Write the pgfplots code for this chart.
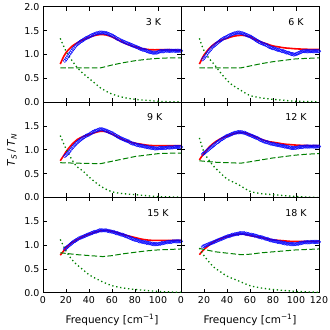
\documentclass[border=0pt]{standalone}
\usepackage{pgfplots}
\pgfplotsset{compat=1.18}
\usepackage{fontspec}
\setmainfont{DejaVu Sans}

\pgfplotsset{
  panel/.style={
    scale only axis, width=138bp, height=95.3bp, anchor=south west,
    xmin=0, xmax=120, ymin=0, ymax=2,
    xtick={0,20,40,60,80,100,120}, ytick={0,0.5,1,1.5,2},
    tick align=inside, major tick length=4bp,
    axis line style={line width=0.8bp},
    tick style={black, line width=0.8bp},
    tick label style={font=\fontsize{9.5}{11}\selectfont},
    xticklabels={}, yticklabels={},
  },
  data/.style={blue, only marks, mark=o, mark size=1.8bp, mark options={line width=0.35bp}},
  fit/.style={red, line width=1.6bp, smooth, no marks},
  lor/.style={green!50!black, line width=1bp, dash pattern=on 5.5bp off 2.4bp, no marks},
  drude/.style={green!50!black, line width=1.3bp, dash pattern=on 1.3bp off 2.7bp, smooth, no marks},
}
\tikzset{tlabel/.style={font=\fontsize{9.5}{11}\selectfont}}

\begin{document}
\begin{tikzpicture}
\useasboundingbox (0,0) rectangle (330bp,330bp);

% ---------- 3 K ----------
\begin{axis}[panel, at={(43bp,227.8bp)}, yticklabels={0.0,0.5,1.0,1.5,2.0}]
\addplot[data] coordinates {
(19,0.87)(20,0.90)(21,0.94)(22,0.97)(23,1.01)(24,1.04)(25,1.08)(26,1.11)(27,1.14)(28,1.17)
(29,1.20)(30,1.22)(31,1.24)(32,1.26)(33,1.28)(34,1.29)(35,1.31)(36,1.32)(37,1.34)(38,1.35)
(39,1.36)(40,1.37)(41,1.39)(42,1.40)(43,1.41)(44,1.42)(45,1.43)(46,1.44)(47,1.45)(48,1.45)
(49,1.46)(50,1.46)(51,1.46)(52,1.46)(53,1.46)(54,1.45)(55,1.45)(56,1.44)(57,1.43)(58,1.42)
(59,1.41)(60,1.40)(61,1.39)(62,1.37)(63,1.36)(64,1.34)(65,1.33)(66,1.32)(67,1.30)(68,1.29)
(69,1.28)(70,1.27)(71,1.26)(72,1.25)(73,1.24)(74,1.23)(75,1.22)(76,1.21)(77,1.20)(78,1.19)
(79,1.18)(80,1.17)(81,1.16)(82,1.15)(83,1.14)(84,1.13)(85,1.12)(86,1.11)(87,1.10)(88,1.10)
(89,1.09)(90,1.08)(91,1.07)(92,1.06)(93,1.05)(94,1.05)(95,1.04)(96,1.04)(97,1.04)(98,1.04)
(99,1.04)(100,1.05)(101,1.06)(102,1.07)(103,1.07)(104,1.07)(105,1.07)(106,1.08)(107,1.08)(108,1.08)
(109,1.08)(110,1.08)(111,1.08)(112,1.08)(113,1.08)(114,1.08)(115,1.08)(116,1.08)(117,1.08)(118,1.08)
(119,1.08)(120,1.08)
};
\addplot[fit] table {
15 0.80
18 0.96
20 1.04
25 1.17
30 1.25
35 1.31
40 1.36
45 1.40
50 1.42
55 1.41
60 1.37
65 1.31
70 1.25
75 1.20
80 1.16
85 1.13
90 1.11
95 1.10
100 1.10
110 1.10
120 1.09
};
\addplot[lor] table {
15 0.72
30 0.72
50 0.72
60 0.78
70 0.83
80 0.87
90 0.90
100 0.92
110 0.93
120 0.93
};
\addplot[drude] table {
15 1.34
20 1.07
25 0.88
30 0.72
35 0.60
40 0.50
45 0.40
50 0.30
55 0.23
60 0.17
70 0.10
80 0.06
90 0.04
100 0.02
110 0.01
120 0.01
};
\node[tlabel] at (rel axis cs:0.80,0.84) {3 K};
\end{axis}

% ---------- 6 K ----------
\begin{axis}[panel, at={(181bp,227.8bp)}]
\addplot[data] coordinates {
(19,0.90)(20,0.93)(21,0.96)(22,0.99)(23,1.03)(24,1.06)(25,1.09)(26,1.12)(27,1.15)(28,1.17)
(29,1.19)(30,1.21)(31,1.23)(32,1.25)(33,1.27)(34,1.29)(35,1.31)(36,1.32)(37,1.34)(38,1.35)
(39,1.36)(40,1.37)(41,1.39)(42,1.40)(43,1.41)(44,1.42)(45,1.43)(46,1.44)(47,1.45)(48,1.45)
(49,1.46)(50,1.46)(51,1.46)(52,1.45)(53,1.45)(54,1.44)(55,1.43)(56,1.42)(57,1.41)(58,1.40)
(59,1.39)(60,1.38)(61,1.37)(62,1.35)(63,1.34)(64,1.32)(65,1.31)(66,1.29)(67,1.28)(68,1.26)
(69,1.25)(70,1.24)(71,1.23)(72,1.22)(73,1.21)(74,1.20)(75,1.19)(76,1.17)(77,1.16)(78,1.15)
(79,1.14)(80,1.13)(81,1.13)(82,1.12)(83,1.11)(84,1.10)(85,1.10)(86,1.09)(87,1.08)(88,1.07)
(89,1.07)(90,1.06)(91,1.05)(92,1.04)(93,1.04)(94,1.03)(95,1.02)(96,1.01)(97,1.01)(98,1.00)
(99,1.00)(100,1.01)(101,1.02)(102,1.03)(103,1.04)(104,1.05)(105,1.06)(106,1.07)(107,1.07)(108,1.07)
(109,1.07)(110,1.07)(111,1.07)(112,1.07)(113,1.07)(114,1.07)(115,1.07)(116,1.07)(117,1.07)(118,1.07)
(119,1.07)(120,1.07)
};
\addplot[fit] table {
16 0.80
18 0.90
20 0.99
25 1.14
30 1.24
35 1.30
40 1.34
45 1.38
50 1.40
55 1.40
60 1.37
65 1.31
70 1.26
75 1.22
80 1.18
85 1.16
90 1.14
95 1.13
100 1.12
110 1.11
120 1.11
};
\addplot[lor] table {
16 0.72
30 0.72
52 0.72
60 0.76
70 0.81
80 0.85
90 0.88
100 0.91
110 0.92
120 0.93
};
\addplot[drude] table {
16 1.34
20 1.08
25 0.90
29 0.79
35 0.60
43 0.39
52 0.25
60 0.14
70 0.09
80 0.06
100 0.02
120 0.01
};
\node[tlabel] at (rel axis cs:0.833,0.84) {6 K};
\end{axis}

% ---------- 9 K ----------
\begin{axis}[panel, at={(43bp,132.5bp)}, yticklabels={0.0,0.5,1.0,1.5,}]
\addplot[data] coordinates {
(19,0.87)(20,0.89)(21,0.92)(22,0.94)(23,0.97)(24,1.00)(25,1.03)(26,1.06)(27,1.09)(28,1.11)
(29,1.14)(30,1.16)(31,1.18)(32,1.20)(33,1.22)(34,1.24)(35,1.26)(36,1.27)(37,1.29)(38,1.30)
(39,1.31)(40,1.32)(41,1.34)(42,1.35)(43,1.37)(44,1.38)(45,1.39)(46,1.40)(47,1.41)(48,1.42)
(49,1.43)(50,1.43)(51,1.43)(52,1.43)(53,1.42)(54,1.41)(55,1.40)(56,1.39)(57,1.38)(58,1.37)
(59,1.36)(60,1.35)(61,1.34)(62,1.32)(63,1.31)(64,1.29)(65,1.28)(66,1.27)(67,1.25)(68,1.24)
(69,1.23)(70,1.22)(71,1.21)(72,1.20)(73,1.19)(74,1.18)(75,1.17)(76,1.15)(77,1.14)(78,1.13)
(79,1.13)(80,1.12)(81,1.11)(82,1.10)(83,1.10)(84,1.09)(85,1.09)(86,1.08)(87,1.08)(88,1.07)
(89,1.07)(90,1.06)(91,1.06)(92,1.05)(93,1.05)(94,1.04)(95,1.04)(96,1.04)(97,1.03)(98,1.03)
(99,1.03)(100,1.03)(101,1.04)(102,1.04)(103,1.04)(104,1.04)(105,1.04)(106,1.04)(107,1.04)(108,1.05)
(109,1.05)(110,1.05)(111,1.05)(112,1.05)(113,1.05)(114,1.06)(115,1.06)(116,1.06)(117,1.06)(118,1.06)
(119,1.06)(120,1.06)
};
\addplot[fit] table {
15 0.77
18 0.88
20 0.96
25 1.11
30 1.22
35 1.28
40 1.32
45 1.36
50 1.39
55 1.38
60 1.33
65 1.27
70 1.21
75 1.17
80 1.14
85 1.12
90 1.10
95 1.09
100 1.09
110 1.09
120 1.09
};
\addplot[lor] table {
15 0.73
30 0.72
50 0.71
60 0.76
70 0.81
80 0.86
90 0.89
100 0.92
110 0.93
120 0.93
};
\addplot[drude] table {
15 1.30
20 1.02
25 0.80
29 0.66
35 0.55
40 0.43
50 0.24
60 0.12
70 0.08
80 0.06
100 0.02
120 0.01
};
\node[tlabel] at (rel axis cs:0.81,0.84) {9 K};
\end{axis}

% ---------- 12 K ----------
\begin{axis}[panel, at={(181bp,132.5bp)}]
\addplot[data] coordinates {
(19,0.91)(20,0.93)(21,0.95)(22,0.97)(23,0.99)(24,1.01)(25,1.03)(26,1.05)(27,1.07)(28,1.09)
(29,1.11)(30,1.13)(31,1.15)(32,1.16)(33,1.18)(34,1.20)(35,1.22)(36,1.23)(37,1.25)(38,1.26)
(39,1.28)(40,1.29)(41,1.30)(42,1.31)(43,1.32)(44,1.33)(45,1.34)(46,1.35)(47,1.36)(48,1.36)
(49,1.37)(50,1.37)(51,1.37)(52,1.37)(53,1.37)(54,1.36)(55,1.36)(56,1.35)(57,1.34)(58,1.33)
(59,1.32)(60,1.31)(61,1.30)(62,1.29)(63,1.28)(64,1.27)(65,1.26)(66,1.25)(67,1.24)(68,1.22)
(69,1.21)(70,1.20)(71,1.19)(72,1.18)(73,1.17)(74,1.16)(75,1.16)(76,1.15)(77,1.14)(78,1.13)
(79,1.13)(80,1.12)(81,1.12)(82,1.11)(83,1.11)(84,1.10)(85,1.10)(86,1.09)(87,1.09)(88,1.08)
(89,1.08)(90,1.07)(91,1.07)(92,1.06)(93,1.06)(94,1.05)(95,1.05)(96,1.04)(97,1.04)(98,1.04)
(99,1.04)(100,1.04)(101,1.05)(102,1.05)(103,1.06)(104,1.06)(105,1.06)(106,1.06)(107,1.07)(108,1.07)
(109,1.07)(110,1.07)(111,1.07)(112,1.07)(113,1.07)(114,1.07)(115,1.07)(116,1.07)(117,1.07)(118,1.07)
(119,1.07)(120,1.07)
};
\addplot[fit] table {
16 0.79
18 0.86
20 0.93
25 1.07
30 1.17
35 1.24
40 1.29
45 1.33
50 1.36
55 1.36
60 1.32
65 1.27
70 1.22
75 1.18
80 1.16
85 1.14
90 1.12
95 1.11
100 1.10
110 1.09
120 1.09
};
\addplot[lor] table {
16 0.77
30 0.74
52 0.72
60 0.75
70 0.79
80 0.83
90 0.86
100 0.89
110 0.91
120 0.92
};
\addplot[drude] table {
16 1.25
20 0.95
25 0.76
29 0.64
35 0.50
40 0.39
50 0.27
60 0.13
70 0.08
80 0.06
100 0.02
120 0.00
};
\node[tlabel] at (rel axis cs:0.833,0.84) {12 K};
\end{axis}

% ---------- 15 K ----------
\begin{axis}[panel, at={(43bp,37.2bp)}, yticklabels={0.0,0.5,1.0,1.5,},
  xticklabels={0,20,40,60,80,100,}]
\addplot[data] coordinates {
(19,0.92)(20,0.94)(21,0.96)(22,0.98)(23,1.00)(24,1.02)(25,1.04)(26,1.06)(27,1.08)(28,1.09)
(29,1.11)(30,1.12)(31,1.14)(32,1.15)(33,1.16)(34,1.17)(35,1.18)(36,1.19)(37,1.20)(38,1.21)
(39,1.22)(40,1.23)(41,1.24)(42,1.25)(43,1.26)(44,1.27)(45,1.28)(46,1.28)(47,1.29)(48,1.30)
(49,1.31)(50,1.31)(51,1.31)(52,1.31)(53,1.31)(54,1.31)(55,1.31)(56,1.30)(57,1.30)(58,1.29)
(59,1.29)(60,1.28)(61,1.28)(62,1.27)(63,1.26)(64,1.25)(65,1.25)(66,1.24)(67,1.23)(68,1.22)
(69,1.22)(70,1.21)(71,1.20)(72,1.19)(73,1.18)(74,1.17)(75,1.16)(76,1.15)(77,1.14)(78,1.13)
(79,1.12)(80,1.11)(81,1.11)(82,1.10)(83,1.09)(84,1.08)(85,1.08)(86,1.07)(87,1.07)(88,1.06)
(89,1.06)(90,1.05)(91,1.05)(92,1.04)(93,1.04)(94,1.03)(95,1.03)(96,1.02)(97,1.02)(98,1.02)
(99,1.02)(100,1.02)(101,1.03)(102,1.03)(103,1.04)(104,1.04)(105,1.05)(106,1.05)(107,1.06)(108,1.06)
(109,1.07)(110,1.07)(111,1.07)(112,1.07)(113,1.08)(114,1.08)(115,1.08)(116,1.08)(117,1.08)(118,1.08)
(119,1.08)(120,1.08)
};
\addplot[fit] table {
15 0.79
18 0.88
20 0.95
25 1.05
30 1.12
35 1.18
40 1.23
45 1.27
50 1.30
55 1.31
60 1.29
65 1.26
70 1.22
75 1.19
80 1.16
85 1.13
90 1.11
95 1.10
100 1.10
110 1.10
120 1.10
};
\addplot[lor] table {
15 0.84
30 0.80
52 0.76
60 0.78
70 0.82
80 0.85
90 0.88
100 0.90
110 0.91
120 0.92
};
\addplot[drude] table {
15 1.12
20 0.88
25 0.70
29 0.60
35 0.48
40 0.38
50 0.25
60 0.15
70 0.10
80 0.07
100 0.03
120 0.01
};
\node[tlabel] at (rel axis cs:0.833,0.84) {15 K};
\end{axis}

% ---------- 18 K ----------
\begin{axis}[panel, at={(181bp,37.2bp)}, xticklabels={0,20,40,60,80,100,120}]
\addplot[data] coordinates {
(19,0.97)(20,0.98)(21,0.99)(22,1.00)(23,1.01)(24,1.02)(25,1.03)(26,1.04)(27,1.05)(28,1.06)
(29,1.07)(30,1.08)(31,1.09)(32,1.10)(33,1.11)(34,1.12)(35,1.13)(36,1.14)(37,1.15)(38,1.16)
(39,1.17)(40,1.18)(41,1.19)(42,1.19)(43,1.20)(44,1.21)(45,1.22)(46,1.22)(47,1.23)(48,1.23)
(49,1.24)(50,1.24)(51,1.25)(52,1.25)(53,1.25)(54,1.25)(55,1.25)(56,1.24)(57,1.24)(58,1.23)
(59,1.23)(60,1.22)(61,1.22)(62,1.21)(63,1.21)(64,1.20)(65,1.20)(66,1.19)(67,1.18)(68,1.17)
(69,1.17)(70,1.16)(71,1.16)(72,1.15)(73,1.14)(74,1.13)(75,1.13)(76,1.12)(77,1.11)(78,1.10)
(79,1.10)(80,1.09)(81,1.09)(82,1.08)(83,1.08)(84,1.07)(85,1.07)(86,1.06)(87,1.06)(88,1.05)
(89,1.05)(90,1.04)(91,1.04)(92,1.03)(93,1.03)(94,1.03)(95,1.02)(96,1.02)(97,1.02)(98,1.02)
(99,1.02)(100,1.02)(101,1.03)(102,1.03)(103,1.04)(104,1.04)(105,1.05)(106,1.05)(107,1.06)(108,1.06)
(109,1.06)(110,1.06)(111,1.06)(112,1.06)(113,1.07)(114,1.07)(115,1.07)(116,1.07)(117,1.07)(118,1.07)
(119,1.07)(120,1.07)
};
\addplot[fit] table {
16 0.80
18 0.86
20 0.91
25 1.01
30 1.09
35 1.14
40 1.18
45 1.21
50 1.23
55 1.23
60 1.20
65 1.18
70 1.16
75 1.13
80 1.11
85 1.10
90 1.09
95 1.08
100 1.08
110 1.08
120 1.08
};
\addplot[lor] table {
16 0.93
30 0.86
52 0.80
60 0.81
70 0.84
80 0.86
90 0.88
100 0.90
110 0.91
120 0.92
};
\addplot[drude] table {
16 0.94
20 0.78
25 0.63
29 0.53
35 0.43
40 0.35
50 0.25
60 0.15
70 0.10
80 0.07
100 0.03
120 0.01
};
\node[tlabel] at (rel axis cs:0.833,0.84) {18 K};
\end{axis}

\node[rotate=90, font=\fontsize{10.5}{12}\selectfont] at (12bp,180bp)
  {\textit{T}\textsubscript{\textit{S}}\,/\,\textit{T}\textsubscript{\textit{N}}};
\node[font=\fontsize{10.5}{12}\selectfont] at (112bp,10bp) {Frequency [cm\textsuperscript{−1}]};
\node[font=\fontsize{10.5}{12}\selectfont] at (250bp,10bp) {Frequency [cm\textsuperscript{−1}]};
\end{tikzpicture}
\end{document}
